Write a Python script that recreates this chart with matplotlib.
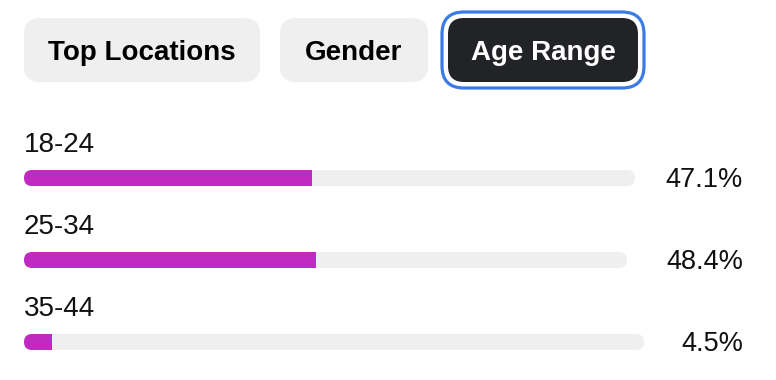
import matplotlib
matplotlib.use("Agg")
import matplotlib.pyplot as plt
from matplotlib.patches import FancyBboxPatch

# tabs on top, the last one is selected
tabs = ["Top Locations", "Gender", "Age Range"]
selected_tab = "Age Range"

# age ranges and their share in percent
age_ranges = ["18-24", "25-34", "35-44"]
shares = [47.1, 48.4, 4.5]

purple = "#C12AC0"
track_gray = "#EFEFEF"
dark = "#222327"
blue = "#3A7BE6"

plt.rcParams['font.family'] = ['Liberation Sans', 'DejaVu Sans']

fig = plt.figure(figsize=(7.76, 3.80), dpi=100)
ax = fig.add_axes([0, 0, 1, 1])
ax.set_xlim(0, 776)
ax.set_ylim(380, 0)  # pixel-like coordinates, y goes down
ax.axis("off")

# tab buttons (x left, x right), all same height
tab_boxes = [(24, 260), (280, 428), (448, 638)]
tab_top, tab_bottom = 18, 82
for name, (x0, x1) in zip(tabs, tab_boxes):
    sel = name == selected_tab
    box = FancyBboxPatch((x0 + 16, tab_top + 16), (x1 - x0) - 32, (tab_bottom - tab_top) - 32,
                         boxstyle="round,pad=16", fc=dark if sel else track_gray, ec="none")
    ax.add_patch(box)
    if sel:
        # focus ring around the selected tab
        ring = FancyBboxPatch((x0 + 16, tab_top + 16), (x1 - x0) - 32, (tab_bottom - tab_top) - 32,
                              boxstyle="round,pad=22", fc="none", ec=blue, lw=2.3)
        ax.add_patch(ring)
    ax.text((x0 + x1) / 2, (tab_top + tab_bottom) / 2 + 10, name, ha="center", va="baseline",
            fontsize=20, fontweight="bold", color="white" if sel else "black")

# rows with label, track, filled part and percent
row_y = [178, 260, 342]
track_ends = [635, 627, 644]  # the track stops before the percent text
bar_h = 16
left = 24
for label, val, yc, right in zip(age_ranges, shares, row_y, track_ends):
    ax.text(left, yc - 26, label, ha="left", va="baseline", fontsize=20, color="#111111")
    ax.text(743, yc + 9, f"{val}%", ha="right", va="baseline", fontsize=19.5, color="#111111")
    track = FancyBboxPatch((left + bar_h / 2, yc - bar_h / 2 + 8), (right - left) - bar_h, 0,
                           boxstyle="round,pad=8", fc=track_gray, ec="none")
    ax.add_patch(track)
    bars = ax.barh([yc], [val / 100 * (right - left)], left=left, height=bar_h, color=purple)
    for b in bars:
        b.set_clip_path(track)

fig.savefig("out.png", dpi=100)
